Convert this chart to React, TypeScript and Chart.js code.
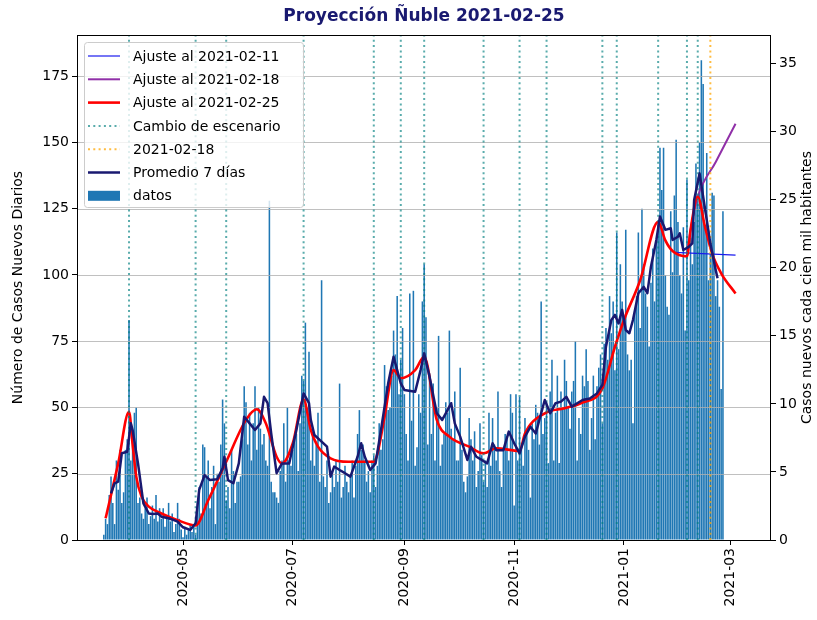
import React, { useEffect, useRef } from 'react';
import { Chart, registerables } from 'chart.js';

Chart.register(...registerables);

const FONT = "'DejaVu Sans', 'Liberation Sans', sans-serif";
const TITLE = 'Proyección Ñuble 2021-02-25';
const Y_LABEL = 'Número de Casos Nuevos Diarios';
const Y1_LABEL = 'Casos nuevos cada cien mil habitantes';

const BASE = Date.UTC(2020, 2, 1);
const dayOf = (s: string) => {
  const [y, m, d] = s.split('-').map(Number);
  return Math.round((Date.UTC(y, m - 1, d) - BASE) / 86400000);
};

// ---- daily cases (bars) ----
const casesMar2020 = [2, 8, 6, 17, 24, 14, 6, 30, 19, 34, 14, 18, 34, 38]; // from 2020-03-18
const casesApr2020 = [83, 30, 40, 48, 50, 14, 16, 10, 8, 12, 16, 6, 9, 13, 8, 17, 7, 12, 8, 12, 5, 9, 14, 7, 10, 3, 6, 14, 8, 4];
const casesMay2020 = [1, 5, 2, 4, 6, 3, 5, 2, 14, 20, 10, 36, 35, 24, 30, 12, 20, 28, 6, 25, 22, 36, 53, 44, 15, 20, 12, 34, 26, 14, 22];
const casesJun2020 = [22, 24, 38, 58, 52, 36, 48, 30, 44, 58, 34, 50, 42, 36, 40, 30, 28, 128, 22, 18, 18, 16, 14, 26, 30, 44, 22, 50, 30, 28];
const casesJul2020 = [34, 38, 40, 26, 44, 62, 60, 82, 50, 71, 30, 40, 28, 36, 48, 22, 98, 24, 20, 30, 14, 18, 26, 20, 30, 22, 59, 16, 20, 28, 22];
const casesAug2020 = [18, 24, 30, 16, 28, 40, 49, 34, 36, 30, 22, 26, 18, 30, 32, 20, 28, 44, 34, 38, 66, 58, 49, 50, 62, 79, 70, 92, 55, 68, 80];
const casesSep2020 = [55, 40, 30, 93, 45, 94, 28, 35, 55, 48, 90, 104, 84, 36, 63, 40, 59, 30, 50, 77, 28, 36, 40, 52, 48, 79, 42, 38, 56, 30];
const casesOct2020 = [30, 65, 34, 22, 18, 24, 46, 38, 30, 41, 20, 26, 44, 32, 22, 30, 20, 48, 28, 46, 36, 30, 56, 26, 20, 34, 40, 38, 30, 55, 48];
const casesNov2020 = [13, 55, 30, 54, 36, 28, 46, 40, 34, 16, 44, 38, 51, 48, 36, 90, 40, 46, 52, 29, 56, 68, 30, 48, 62, 29, 56, 50, 68, 60];
const casesDec2020 = [50, 42, 56, 60, 75, 30, 46, 40, 62, 58, 72, 60, 34, 46, 62, 38, 58, 65, 70, 44, 74, 80, 68, 92, 78, 90, 64, 116, 72, 104, 90];
const casesJan2021 = [82, 117, 70, 64, 68, 44, 86, 92, 116, 80, 125, 104, 93, 88, 73, 97, 110, 90, 113, 120, 148, 132, 148, 100, 88, 85, 124, 101, 130, 151, 120];
const casesFeb2021 = [100, 93, 118, 79, 136, 98, 114, 104, 120, 142, 128, 150, 181, 172, 118, 146, 98, 108, 131, 130, 92, 98, 88, 57, 124];

const caseBlocks: [string, number[]][] = [
  ['2020-03-18', casesMar2020], ['2020-04-01', casesApr2020], ['2020-05-01', casesMay2020],
  ['2020-06-01', casesJun2020], ['2020-07-01', casesJul2020], ['2020-08-01', casesAug2020],
  ['2020-09-01', casesSep2020], ['2020-10-01', casesOct2020], ['2020-11-01', casesNov2020],
  ['2020-12-01', casesDec2020], ['2021-01-01', casesJan2021], ['2021-02-01', casesFeb2021],
];

// ---- 7-day average ----
const avgDates = [
  '2020-03-22', '2020-03-24', '2020-03-26', '2020-03-28', '2020-03-31', '2020-04-02', '2020-04-03', '2020-04-06',
  '2020-04-09', '2020-04-12', '2020-04-14', '2020-04-17', '2020-04-19', '2020-04-23', '2020-04-26', '2020-04-28',
  '2020-05-01', '2020-05-05', '2020-05-08', '2020-05-10', '2020-05-13', '2020-05-16', '2020-05-20', '2020-05-23',
  '2020-05-24', '2020-05-26', '2020-05-29', '2020-06-01', '2020-06-04', '2020-06-07', '2020-06-10', '2020-06-13',
  '2020-06-15', '2020-06-17', '2020-06-19', '2020-06-22', '2020-06-25', '2020-06-29', '2020-07-03', '2020-07-07',
  '2020-07-10', '2020-07-11', '2020-07-13', '2020-07-17', '2020-07-20', '2020-07-22', '2020-07-24', '2020-07-27',
  '2020-07-30', '2020-08-02', '2020-08-06', '2020-08-08', '2020-08-10', '2020-08-13', '2020-08-16', '2020-08-19',
  '2020-08-23', '2020-08-26', '2020-08-30', '2020-09-01', '2020-09-07', '2020-09-10', '2020-09-12', '2020-09-15',
  '2020-09-19', '2020-09-22', '2020-09-24', '2020-09-27', '2020-09-29', '2020-10-02', '2020-10-06', '2020-10-08',
  '2020-10-11', '2020-10-14', '2020-10-17', '2020-10-20', '2020-10-22', '2020-10-26', '2020-10-29', '2020-11-01',
  '2020-11-04', '2020-11-07', '2020-11-10', '2020-11-13', '2020-11-15', '2020-11-18', '2020-11-21', '2020-11-24',
  '2020-11-27', '2020-11-30', '2020-12-03', '2020-12-06', '2020-12-09', '2020-12-13', '2020-12-17', '2020-12-20',
  '2020-12-22', '2020-12-25', '2020-12-27', '2020-12-29', '2020-12-31', '2021-01-02', '2021-01-04', '2021-01-06',
  '2021-01-09', '2021-01-12', '2021-01-14', '2021-01-16', '2021-01-19', '2021-01-21', '2021-01-24', '2021-01-27',
  '2021-01-28', '2021-01-31', '2021-02-01', '2021-02-03', '2021-02-06', '2021-02-08', '2021-02-09', '2021-02-12',
  '2021-02-14', '2021-02-16', '2021-02-18', '2021-02-21', '2021-02-22',
];
const avgValues = [
  17.6, 21.4, 22, 32.7, 33.3, 44, 41.5, 28.9,
  13.8, 10, 9.8, 10, 8.8, 8.2, 7.5, 6.9,
  4.8, 3.8, 6.3, 18.9, 24.5, 22.6, 22.9, 27,
  31.4, 22.6, 21.4, 28.9, 46.5, 44, 41.5, 44,
  54, 51.6, 40.2, 25.2, 28.9, 28.9, 41.5, 55.3,
  51.6, 45.3, 39.6, 37.1, 35.2, 23.9, 27.7, 26.4,
  25.2, 23.9, 31.4, 36.5, 31.4, 26.4, 28.9, 41.5,
  59.1, 69.1, 59.1, 56.6, 55.9, 64.1, 70.4, 61.6,
  47.8, 45.3, 47.8, 51.6, 44, 39, 30.2, 35.2,
  31.4, 30.2, 28.9, 36.5, 33.9, 33.9, 40.9, 36.5,
  32.7, 39, 42.7, 40.2, 45.3, 52.8, 47.8, 51.6,
  52.2, 54, 50.3, 51.6, 52.8, 53.4, 55.3, 58.5,
  72.9, 83, 84.9, 81.7, 86.8, 79.2, 78, 83,
  93.1, 95.5, 93.1, 103.1, 113.2, 122, 117, 117.6,
  113.2, 114.4, 115.7, 109.4, 110.6, 111.9, 128.3, 138.3,
  129.5, 120.7, 111.9, 101.8, 98.7,
];

// ---- model fits ----
const fit25Dates = [
  '2020-03-19', '2020-03-26', '2020-04-01', '2020-04-03', '2020-04-05', '2020-04-08', '2020-04-12', '2020-04-19',
  '2020-04-28', '2020-05-08', '2020-05-15', '2020-05-25', '2020-06-05', '2020-06-11', '2020-06-16', '2020-06-22',
  '2020-06-25', '2020-07-01', '2020-07-07', '2020-07-11', '2020-07-15', '2020-07-22', '2020-08-01', '2020-08-15',
  '2020-08-17', '2020-08-21', '2020-08-26', '2020-08-30', '2020-09-07', '2020-09-12', '2020-09-19', '2020-09-26',
  '2020-10-07', '2020-10-15', '2020-10-22', '2020-11-04', '2020-11-07', '2020-11-18', '2020-11-29', '2020-12-08',
  '2020-12-20', '2020-12-27', '2021-01-01', '2021-01-10', '2021-01-20', '2021-01-24', '2021-01-28', '2021-02-05',
  '2021-02-07', '2021-02-11', '2021-02-15', '2021-02-19', '2021-02-24', '2021-03-04',
];
const fit25Values = [
  8.2, 28.9, 48.4, 36, 24, 16.3, 12.6, 10,
  7.5, 5.5, 15, 29.5, 45.3, 49.3, 44, 31.4,
  28.9, 36.5, 53, 41.5, 35.2, 30.8, 29.5, 29.5,
  32.5, 46.5, 64.1, 61, 64.1, 69.1, 45.3, 39,
  35.2, 32.7, 34.6, 33.6, 40.2, 47.8, 49.7, 51.6,
  57.2, 72.9, 83, 98, 120, 113, 109, 107,
  117, 129.5, 118.2, 108, 100.6, 93,
];
const fit18Dates = ['2021-02-05', '2021-02-07', '2021-02-11', '2021-02-21', '2021-03-04'];
const fit18Values = [107, 117, 129.5, 142.6, 157];
const fit11Dates = ['2021-01-29', '2021-03-04'];
const fit11Values = [108.5, 107.5];

// ---- vertical markers ----
const scenarioDates = [
  '2020-04-01', '2020-05-08', '2020-05-25', '2020-07-07', '2020-08-15', '2020-08-30', '2020-09-12', '2020-10-15',
  '2020-11-04', '2020-11-19', '2020-12-20', '2020-12-28', '2021-01-20', '2021-02-05', '2021-02-11',
];
const markerDates = ['2021-02-18'];

// ---- axes ----
const xTickDates = ['2020-05-01', '2020-07-01', '2020-09-01', '2020-11-01', '2021-01-01', '2021-03-01'];
const xTickLabels = ['2020-05', '2020-07', '2020-09', '2020-11', '2021-01', '2021-03'];
const leftTicks = [0, 25, 50, 75, 100, 125, 150, 175];
const rightTicks = [0, 5, 10, 15, 20, 25, 30, 35];
const Y_MAX = 190.5;
const Y1_MAX = 37.1;
const X_MIN = 2.1;
const X_MAX = 387.7;

const pts = (dates: string[], vals: number[]) => dates.map((d, i) => ({ x: dayOf(d), y: vals[i] }));
const vlines = (dates: string[]) =>
  dates.flatMap((d) => [{ x: dayOf(d), y: 0 }, { x: dayOf(d), y: Y_MAX }, { x: dayOf(d), y: null as any }]);

const legendOrder = [1, 2, 3, 4, 5, 6, 0];

const decorPlugin = {
  id: 'decor',
  afterDatasetDraw(chart: any, args: any) {
    if (args.index !== 0) return;
    const { ctx, chartArea: a, scales } = chart;
    ctx.save();
    ctx.strokeStyle = '#b0b0b0';
    ctx.lineWidth = 0.8;
    for (const v of leftTicks) {
      const y = Math.round(scales.y.getPixelForValue(v)) + 0.5;
      ctx.beginPath();
      ctx.moveTo(a.left, y);
      ctx.lineTo(a.right, y);
      ctx.stroke();
    }
    ctx.restore();
  },
  afterDatasetsDraw(chart: any) {
    const { ctx, chartArea: a } = chart;
    ctx.save();
    ctx.strokeStyle = '#000';
    ctx.lineWidth = 1;
    ctx.strokeRect(Math.round(a.left) + 0.5, Math.round(a.top) + 0.5, Math.round(a.right - a.left) - 1, Math.round(a.bottom - a.top));
    const bx = a.left + 7;
    const by = a.top + 7;
    const bw = 219;
    const bh = 165;
    ctx.beginPath();
    if ((ctx as any).roundRect) (ctx as any).roundRect(bx + 0.5, by + 0.5, bw, bh, 3);
    else ctx.rect(bx + 0.5, by + 0.5, bw, bh);
    ctx.fillStyle = 'rgba(255,255,255,0.8)';
    ctx.fill();
    ctx.strokeStyle = '#cccccc';
    ctx.lineWidth = 1;
    ctx.stroke();
    ctx.font = `14px ${FONT}`;
    ctx.textBaseline = 'middle';
    ctx.textAlign = 'left';
    legendOrder.forEach((di, row) => {
      const ds = chart.data.datasets[di];
      const y = by + 14 + row * 23.3;
      const hx0 = bx + 4;
      const hx1 = bx + 36;
      if (ds.type === 'bar') {
        ctx.fillStyle = ds.backgroundColor;
        ctx.fillRect(hx0, y - 5, hx1 - hx0, 10);
      } else {
        ctx.save();
        ctx.strokeStyle = ds.borderColor;
        ctx.lineWidth = ds.borderWidth;
        ctx.setLineDash(ds.borderDash || []);
        ctx.beginPath();
        ctx.moveTo(hx0, y);
        ctx.lineTo(hx1, y);
        ctx.stroke();
        ctx.restore();
      }
      ctx.fillStyle = '#000';
      ctx.fillText(ds.label, bx + 49, y + 1);
    });
    ctx.restore();
  },
  afterDraw(chart: any) {
    const { ctx, chartArea: a } = chart;
    ctx.save();
    ctx.fillStyle = '#191970';
    ctx.font = `bold 17px ${FONT}`;
    ctx.textAlign = 'center';
    ctx.textBaseline = 'middle';
    ctx.fillText(TITLE, (a.left + a.right) / 2, 17);
    ctx.fillStyle = '#000';
    ctx.font = `14px ${FONT}`;
    const cy = (a.top + a.bottom) / 2;
    ctx.save();
    ctx.translate(18, cy);
    ctx.rotate(-Math.PI / 2);
    ctx.fillText(Y_LABEL, 0, 0);
    ctx.restore();
    ctx.save();
    ctx.translate(807, cy);
    ctx.rotate(-Math.PI / 2);
    ctx.fillText(Y1_LABEL, 0, 0);
    ctx.restore();
    ctx.restore();
  },
};

export default function App() {
  const ref = useRef<HTMLCanvasElement | null>(null);
  useEffect(() => {
    if (!ref.current) return;
    const barPoints = caseBlocks.flatMap(([start, vals]) => vals.map((v, i) => ({ x: dayOf(start) + i, y: v })));
    const tickFont = { size: 14, family: FONT };
    const tickGrid = { drawOnChartArea: false, drawTicks: true, tickLength: 5, color: '#000', lineWidth: 1, offset: false };
    const chart = new Chart(ref.current, {
      type: 'line',
      data: {
        datasets: [
          {
            type: 'bar', label: 'datos', data: barPoints, backgroundColor: '#1f77b4', borderWidth: 0,
            barPercentage: 0.86, categoryPercentage: 1, order: 10, yAxisID: 'y',
          } as any,
          {
            type: 'line', label: 'Ajuste al 2021-02-11', data: pts(fit11Dates, fit11Values), borderColor: '#1a1aee',
            borderWidth: 1.2, pointRadius: 0, order: 7, yAxisID: 'y',
          },
          {
            type: 'line', label: 'Ajuste al 2021-02-18', data: pts(fit18Dates, fit18Values), borderColor: '#9030a8',
            borderWidth: 2, pointRadius: 0, cubicInterpolationMode: 'monotone', order: 6, yAxisID: 'y',
          },
          {
            type: 'line', label: 'Ajuste al 2021-02-25', data: pts(fit25Dates, fit25Values), borderColor: '#ff0000',
            borderWidth: 2.6, pointRadius: 0, cubicInterpolationMode: 'monotone', order: 5, yAxisID: 'y',
          },
          {
            type: 'line', label: 'Cambio de escenario', data: vlines(scenarioDates), borderColor: 'rgba(0,128,128,0.65)',
            borderWidth: 2, borderDash: [2, 3.3], pointRadius: 0, spanGaps: false, order: 4, yAxisID: 'y',
          },
          {
            type: 'line', label: '2021-02-18', data: vlines(markerDates), borderColor: 'rgba(255,165,0,0.75)',
            borderWidth: 2, borderDash: [2, 3.3], pointRadius: 0, spanGaps: false, order: 3, yAxisID: 'y',
          },
          {
            type: 'line', label: 'Promedio 7 días', data: pts(avgDates, avgValues), borderColor: '#191970',
            borderWidth: 2.5, pointRadius: 0, tension: 0, borderJoinStyle: 'round', order: 2, yAxisID: 'y',
          },
        ],
      },
      options: {
        responsive: false,
        animation: false,
        devicePixelRatio: 1,
        events: [],
        layout: { padding: { top: 35, left: 0, right: 0, bottom: 0 } },
        plugins: { legend: { display: false }, tooltip: { enabled: false }, title: { display: false } },
        scales: {
          x: {
            type: 'linear', min: X_MIN, max: X_MAX, offset: false,
            afterBuildTicks: (s: any) => { s.ticks = xTickDates.map((d) => ({ value: dayOf(d) })); },
            afterFit: (s: any) => { s.height = 80; },
            ticks: {
              autoSkip: false, minRotation: 90, maxRotation: 90, padding: 3, color: '#000', font: tickFont,
              callback: (v: any) => {
                const i = xTickDates.findIndex((d) => dayOf(d) === v);
                return i >= 0 ? xTickLabels[i] : '';
              },
            },
            grid: tickGrid,
            border: { display: false },
          },
          y: {
            type: 'linear', position: 'left', min: 0, max: Y_MAX,
            afterBuildTicks: (s: any) => { s.ticks = leftTicks.map((v) => ({ value: v })); },
            afterFit: (s: any) => { s.width = 77; },
            ticks: { padding: 3, color: '#000', font: tickFont },
            grid: tickGrid,
            border: { display: false },
          },
          y1: {
            type: 'linear', position: 'right', min: 0, max: Y1_MAX, display: true,
            afterBuildTicks: (s: any) => { s.ticks = rightTicks.map((v) => ({ value: v })); },
            afterFit: (s: any) => { s.width = 46; },
            ticks: { padding: 3, color: '#000', font: tickFont },
            grid: tickGrid,
            border: { display: false },
          },
        },
      } as any,
      plugins: [decorPlugin as any],
    });
    return () => chart.destroy();
  }, []);
  return (
    <div style={{ position: 'fixed', left: 0, top: 0, width: 817, height: 620, background: '#fff' }}>
      <canvas ref={ref} width={817} height={620} />
    </div>
  );
}
